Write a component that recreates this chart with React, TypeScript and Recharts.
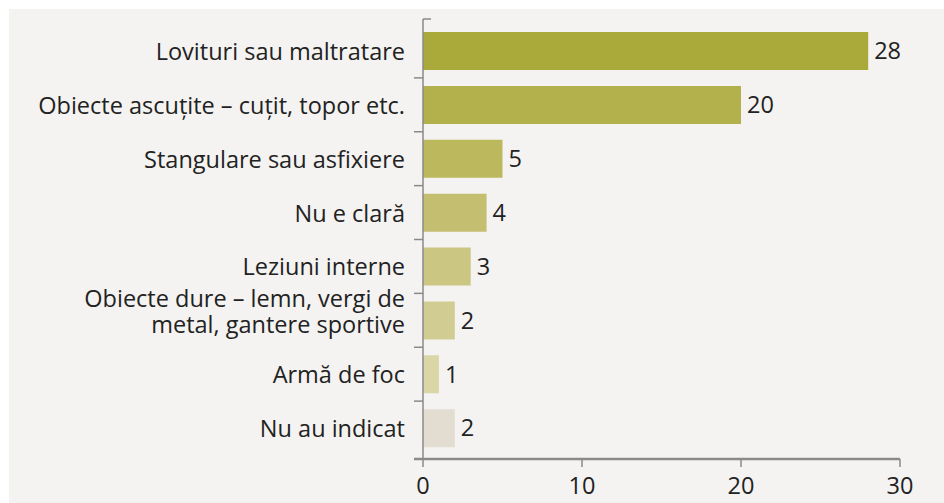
import { Bar, BarChart, Cell, LabelList, XAxis, YAxis } from "recharts";

const categories = [
  "Lovituri sau maltratare",
  "Obiecte ascuțite – cuțit, topor etc.",
  "Stangulare sau asfixiere",
  "Nu e clară",
  "Leziuni interne",
  "Obiecte dure – lemn, vergi de\nmetal, gantere sportive",
  "Armă de foc",
  "Nu au indicat",
];
const values = [28, 20, 5, 4, 3, 2, 1, 2];
const xTicks = [0, 10, 20, 30];

const barColors = [
  "#aaaa3a",
  "#b3b14b",
  "#bcb85d",
  "#c4bf70",
  "#cbc681",
  "#d1cc91",
  "#dad6a6",
  "#e3ddd1",
];

const data = categories.map((name, i) => ({ name, value: values[i] }));

const FONT = "'Open Sans', sans-serif";
const AXIS = "#8a8a8a";
const TEXT = "#222222";
const PLOT_TOP = 19;
const PLOT_BOTTOM = 459;
const PAD_TOP = 5;
const PAD_BOTTOM = 4;
const BAND = (PLOT_BOTTOM - PLOT_TOP - PAD_TOP - PAD_BOTTOM) / categories.length;

// category label on the left, tick marks sit on the band edges like Excel
const CategoryTick = (props: any) => {
  const { x, y, payload, index } = props;
  const lines = String(payload.value).split("\n");
  const lineH = 26;
  const axisX = x + 18;
  const top = y - BAND / 2;
  return (
    <g>
      {index === 0 ? (
        <line x1={axisX} x2={axisX + 8} y1={PLOT_TOP} y2={PLOT_TOP} stroke={AXIS} strokeWidth={1.5} />
      ) : (
        <line x1={axisX - 9} x2={axisX} y1={top} y2={top} stroke={AXIS} strokeWidth={1.5} />
      )}
      {index === categories.length - 1 && (
        <line x1={axisX - 9} x2={axisX} y1={PLOT_BOTTOM} y2={PLOT_BOTTOM} stroke={AXIS} strokeWidth={2.5} />
      )}
      <text x={x} y={y} textAnchor="end" fill={TEXT} fontSize={23.5} fontFamily={FONT}>
        {lines.map((l, i) => (
          <tspan key={i} x={x} dy={i === 0 ? (lines.length > 1 ? -13 : 9) : lineH}>
            {l}
          </tspan>
        ))}
      </text>
    </g>
  );
};

export default function App() {
  return (
    <div style={{ position: "absolute", left: 0, top: 0, width: 944, height: 503, background: "#ffffff" }}>
      <div style={{ position: "absolute", left: 9, top: 9, width: 935, height: 494, background: "#f4f3f1" }} />
      <div style={{ position: "absolute", left: 0, top: 0 }}>
        <BarChart
          width={944}
          height={503}
          data={data}
          layout="vertical"
          margin={{ top: PLOT_TOP, right: 44, left: 0, bottom: 0 }}
          barSize={38}
        >
          <XAxis
            type="number"
            domain={[0, 30]}
            ticks={xTicks}
            interval={0}
            height={503 - PLOT_BOTTOM}
            axisLine={{ stroke: AXIS, strokeWidth: 2.5 }}
            tickLine={{ stroke: AXIS, strokeWidth: 1.5 }}
            tickSize={8}
            tickMargin={10}
            tick={{ fill: TEXT, fontSize: 23.5, fontFamily: FONT }}
          />
          <YAxis
            type="category"
            dataKey="name"
            width={423}
            padding={{ top: PAD_TOP, bottom: PAD_BOTTOM }}
            axisLine={{ stroke: AXIS, strokeWidth: 1.5 }}
            tickLine={false}
            tickSize={9}
            tickMargin={9}
            interval={0}
            tick={<CategoryTick />}
          />
          <Bar dataKey="value" isAnimationActive={false}>
            {data.map((d, i) => (
              <Cell key={d.name} fill={barColors[i]} />
            ))}
            <LabelList
              dataKey="value"
              position="right"
              offset={6}
              fill={TEXT}
              fontSize={23.5}
              fontFamily={FONT}
            />
          </Bar>
        </BarChart>
      </div>
    </div>
  );
}
